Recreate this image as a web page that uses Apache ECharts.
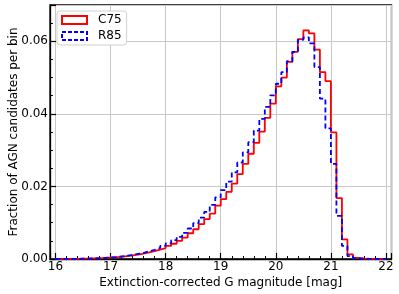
<!DOCTYPE html>
<html><head><meta charset="utf-8">
<script src="https://cdn.jsdelivr.net/npm/echarts@6/dist/echarts.min.js"></script>
<style>html,body{margin:0;padding:0;background:#fff}#c{width:399px;height:294px}</style>
</head><body><div id="c"></div>
<script>
var binStart = 16.0;
var binWidth = 0.1;
var c75 = [0.00005,0.00005,0.00005,0.00005,0.00008,0.0001,0.00015,0.0002,0.0003,0.0004,
  0.0005,0.0006,0.0008,0.001,0.0012,0.0015,0.0018,0.0022,0.0026,0.003,
  0.0036,0.0042,0.005,0.0059,0.0071,0.0082,0.0096,0.011,0.0125,0.0147,
  0.0165,0.0185,0.0208,0.0234,0.0262,0.029,0.032,0.0351,0.0389,0.0428,
  0.0476,0.050,0.0543,0.0571,0.0606,0.063,0.0622,0.0577,0.0515,0.049,
  0.0349,0.0168,0.0054,0.0013,0.0003,0.0001,0.00005,0.00003,0.00002,0.00001];
var r85 = [0.00005,0.00005,0.00005,0.00005,0.00008,0.0001,0.00015,0.0002,0.0003,0.0004,
  0.0005,0.0007,0.0009,0.0011,0.0014,0.0017,0.0021,0.0025,0.003,0.0036,
  0.0043,0.0052,0.0061,0.0072,0.0084,0.0099,0.0114,0.013,0.0149,0.017,
  0.019,0.0213,0.0239,0.0266,0.0294,0.0322,0.0354,0.0386,0.0419,0.0451,
  0.0483,0.0515,0.0545,0.0571,0.0604,0.0611,0.0594,0.0529,0.0442,0.036,
  0.0262,0.0119,0.0036,0.0008,0.0002,0.0001,0.00005,0.00003,0.00002,0.00001];
var xTicks = [16,17,18,19,20,21,22];
var yTicks = [0,0.02,0.04,0.06];

function stepPts(vals){
  var pts = [[binStart, 0]];
  for (var i=0;i<vals.length;i++){ pts.push([binStart + i*binWidth, vals[i]]); }
  var end = binStart + vals.length*binWidth;
  pts.push([end, vals[vals.length-1]]);
  pts.push([end, 0]);
  return pts;
}
var font = 'DejaVu Sans';
var chart = echarts.init(document.getElementById('c'));
chart.setOption({
  animation:false,
  grid:{left:50,right:7.5,top:5,bottom:35,outerBoundsMode:'none',containLabel:false,show:true,borderColor:'#000',borderWidth:1.3,backgroundColor:'transparent'},
  legend:{
    left:57,top:11,orient:'vertical',itemWidth:25,itemHeight:8,itemGap:4,
    backgroundColor:'#fff',borderColor:'#d0d0d0',borderWidth:1,borderRadius:3,padding:[3,5,3,4],
    textStyle:{fontFamily:font,fontSize:12,color:'#000',padding:[0,0,0,6]},
    data:[
      {name:'C75',icon:'rect',itemStyle:{color:'#fff',borderColor:'#ff0000',borderWidth:2}},
      {name:'R85',icon:'rect',itemStyle:{color:'#fff',borderColor:'#0000ff',borderWidth:2,borderType:[4,2]}}
    ]
  },
  xAxis:{
    type:'value',min:15.9,max:22.1,minInterval:1,maxInterval:1,
    name:'Extinction-corrected G magnitude [mag]',nameLocation:'middle',nameGap:18,nameMoveOverlap:false,
    nameTextStyle:{fontFamily:font,fontSize:12,color:'#000'},
    axisLine:{onZero:false,lineStyle:{color:'#000',width:1.3}},
    axisTick:{inside:true,length:6,lineStyle:{color:'#000',width:1.2}},
    minorTick:{show:true,splitNumber:5,length:3,lineStyle:{color:'#000',width:1}},
    axisLabel:{fontFamily:font,fontSize:12,color:'#000',margin:2,showMinLabel:false,showMaxLabel:false,
      formatter:function(v){return xTicks.indexOf(Math.round(v))>=0 && Math.abs(v-Math.round(v))<1e-6 ? String(Math.round(v)) : '';}},
    splitLine:{show:true,lineStyle:{color:'#c8c8c8',width:1}}
  },
  yAxis:{
    type:'value',min:0,max:0.07,interval:0.02,
    name:'Fraction of AGN candidates per bin',nameLocation:'middle',nameGap:30,nameMoveOverlap:false,
    nameTextStyle:{fontFamily:font,fontSize:12,color:'#000'},
    axisLine:{lineStyle:{color:'#000',width:1.3}},
    axisTick:{inside:true,length:6,lineStyle:{color:'#000',width:1.2}},
    minorTick:{show:true,splitNumber:4,length:3,lineStyle:{color:'#000',width:1}},
    axisLabel:{fontFamily:font,fontSize:12,color:'#000',margin:2,showMaxLabel:false,
      formatter:function(v){return yTicks.some(function(t){return Math.abs(t-v)<1e-9;}) ? v.toFixed(2) : '';}},
    splitLine:{show:true,lineStyle:{color:'#c8c8c8',width:1}}
  },
  series:[
    {name:'C75',type:'line',step:'end',data:stepPts(c75),showSymbol:false,symbol:'none',
     lineStyle:{color:'#ff0000',width:1.8},itemStyle:{color:'#ff0000'},z:2},
    {name:'R85',type:'line',step:'end',data:stepPts(r85),showSymbol:false,symbol:'none',
     lineStyle:{color:'#0000ff',width:1.8,type:[5,3]},itemStyle:{color:'#0000ff'},z:3}
  ]
});
</script></body></html>
